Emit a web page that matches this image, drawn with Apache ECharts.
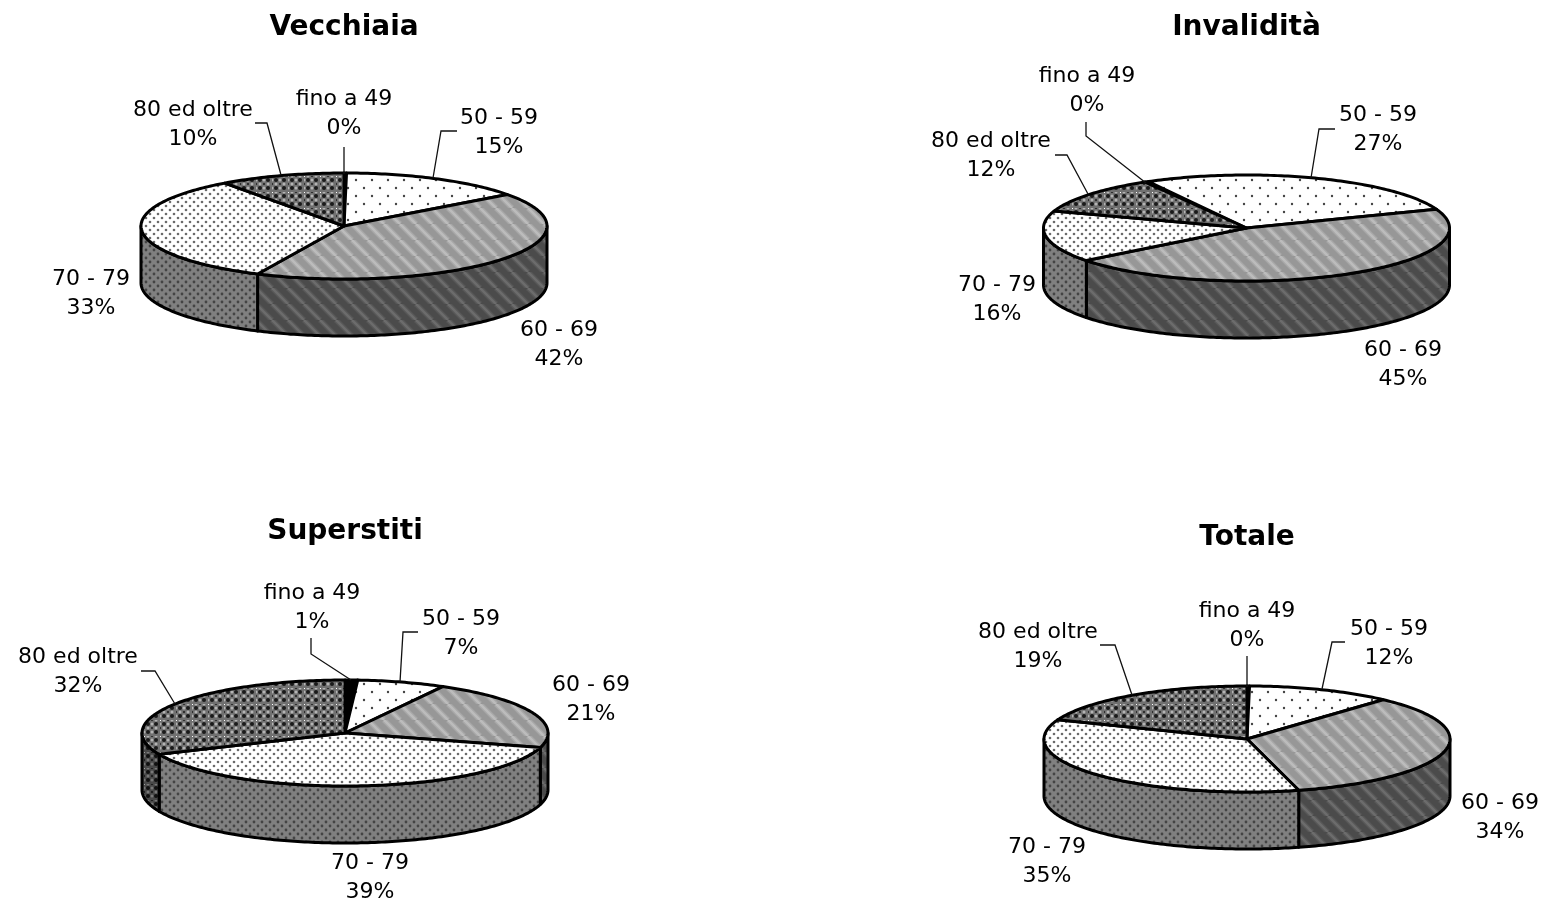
<!DOCTYPE html>
<html><head><meta charset="utf-8">
<style>html,body{margin:0;padding:0;background:#fff}#c{width:1546px;height:901px}</style>
<script src="https://cdn.jsdelivr.net/npm/echarts@6/dist/echarts.min.js"></script>
</head><body><div id="c"></div>
<script>
var categories = ['fino a 49', '50 - 59', '60 - 69', '70 - 79', '80 ed oltre'];
var vecchiaia = [0.2, 14.7, 42.1, 33.0, 10.0];
var invalidita = [0.3, 27.3, 45.2, 15.7, 11.5];
var superstiti = [1.0, 7.0, 21.4, 39.0, 31.6];
var totale = [0.2, 11.5, 34.2, 35.0, 19.1];
var percentLabels = {
  Vecchiaia: ['0%', '15%', '42%', '33%', '10%'],
  'Invalidità': ['0%', '27%', '45%', '16%', '12%'],
  Superstiti: ['1%', '7%', '21%', '39%', '32%'],
  Totale: ['0%', '12%', '34%', '35%', '19%']
};

var FONT = '"DejaVu Sans", Verdana, sans-serif';
function pat(w, h, draw) {
  var c = document.createElement('canvas'); c.width = w; c.height = h;
  draw(c.getContext('2d'), w, h);
  return { image: c, repeat: 'repeat' };
}
function dots(bg, fg, px, py, r) {
  return pat(px, py * 2, function (g, w, h) {
    g.fillStyle = bg; g.fillRect(0, 0, w, h);
    g.fillStyle = fg;
    [[px / 4, py / 2], [px * 3 / 4, py * 1.5]].forEach(function (p) {
      g.beginPath(); g.arc(p[0], p[1], r, 0, 7); g.fill();
    });
  });
}
function stripes(bg, mid, fg, per) {
  return pat(per, per, function (g, w, h) {
    g.fillStyle = bg; g.fillRect(0, 0, w, h);
    [[mid, per * 0.34], [fg, per * 0.16]].forEach(function (s) {
      g.strokeStyle = s[0]; g.lineWidth = s[1];
      for (var i = -1; i <= 1; i++) {
        g.beginPath(); g.moveTo(i * per, 0); g.lineTo(i * per + per, per); g.stroke();
      }
    });
  });
}
function weave(bg, dark, light, cross) {
  return pat(16, 16, function (g, w, h) {
    g.fillStyle = bg; g.fillRect(0, 0, w, h);
    for (var y = 0; y < 16; y += 8) for (var x = 0; x < 16; x += 8) {
      g.fillStyle = dark;
      g.beginPath(); g.arc(x + 4, y + 4, 2.0, 0, 7); g.fill();
      g.beginPath(); g.arc(x, y, 1.0, 0, 7); g.fill();
      g.fillStyle = light;
      g.beginPath(); g.arc(x + 4, y, 1.5, 0, 7); g.fill();
      g.beginPath(); g.arc(x, y + 4, 1.5, 0, 7); g.fill();
    }
    g.fillStyle = cross;
    g.fillRect(0, 0, 1, 1);
  });
}
var topFill = [
  '#000',
  dots('#fff', '#444', 16, 8, 1.2),
  stripes('#979797', '#a8a8a8', '#bcbcbc', 16),
  dots('#fff', '#6a6a6a', 8, 4, 1.3),
  weave('#707070', '#1a1a1a', '#b4b4b4', '#fff')
];
var sideFill = [
  '#000',
  dots('#808080', '#2a2a2a', 16, 8, 1.2),
  stripes('#4b4b4b', '#585858', '#6c6c6c', 16),
  dots('#808080', '#444', 8, 4, 1.4),
  weave('#484848', '#101010', '#787878', '#a0a0a0')
];

var pies = [
  { title: 'Vecchiaia', values: vecchiaia, cx: 344, cy: 226, rot: 0, titleY: 25,
    labels: [[344, 114], [499, 133], [559, 345], [91, 294], [193, 125]],
    leaders: [[[344, 147], [344, 174]], [[457, 131], [441, 131], [433, 178]], null, null, [[255, 123], [267, 123], [281, 175]]] },
  { title: 'Invalidità', values: invalidita, cx: 1246.5, cy: 228, rot: -30, titleY: 25,
    labels: [[1087, 91], [1378, 130], [1403, 365], [997, 300], [991, 156]],
    leaders: [[[1086, 122], [1086, 136], [1146, 183]], [[1335, 129], [1319, 129], [1311, 178]], null, null, [[1055, 155], [1067, 155], [1088, 194]]] },
  { title: 'Superstiti', values: superstiti, cx: 345, cy: 733, rot: 0, titleY: 529,
    labels: [[312, 608], [461, 634], [591, 700], [370, 878], [78, 672]],
    leaders: [[[311, 638], [311, 654], [351, 680]], [[418, 632], [403, 632], [400, 682]], null, null, [[141, 671], [155, 671], [175, 704]]] },
  { title: 'Totale', values: totale, cx: 1247, cy: 739, rot: 0, titleY: 535,
    labels: [[1247, 626], [1389, 644], [1500, 818], [1047, 862], [1038, 647]],
    leaders: [[[1247, 656], [1247, 687]], [[1345, 642], [1332, 642], [1322, 689]], null, null, [[1100, 645], [1115, 645], [1132, 695]]] }
];
var RX = 203, RY = 53, DEPTH = 57, LW = 3;

function pt(p, deg, dy) {
  var a = deg * Math.PI / 180;
  return [p.cx + RX * Math.sin(a), p.cy - RY * Math.cos(a) + (dy || 0)];
}
function arc(p, a0, a1, dy) {
  var out = [], n = Math.max(2, Math.ceil(Math.abs(a1 - a0)));
  for (var i = 0; i <= n; i++) out.push(pt(p, a0 + (a1 - a0) * i / n, dy));
  return out;
}
function angles(p) {
  var sum = p.values.reduce(function (s, v) { return s + v; }, 0), acc = p.rot, res = [];
  p.values.forEach(function (v) { var n = acc + v / sum * 360; res.push([acc, n]); acc = n; });
  return res;
}
function wall(p, a0, a1, fill) {
  var lo = a0, hi = a1;
  while (lo < -90) { lo += 360; hi += 360; }
  var parts = [];
  [[90, 270], [450, 630]].forEach(function (r) {
    var s = Math.max(lo, r[0]), e = Math.min(hi, r[1]);
    if (e > s) parts.push([s, e]);
  });
  return parts.map(function (q) {
    var pts = arc(p, q[0], q[1], 0).concat(arc(p, q[1], q[0], DEPTH));
    return { type: 'polygon', shape: { points: pts }, style: { fill: fill, stroke: '#000', lineWidth: LW, lineJoin: 'round' } };
  });
}

function pieSeries(p) {
  var ang = angles(p);
  var data = p.values.map(function (v, i) { return { value: v, name: categories[i] }; });
  return {
    type: 'custom', coordinateSystem: 'none', name: p.title, data: data, clip: false, animation: false, silent: true,
    renderItem: function (params) {
      var i = params.dataIndex;
      var a = ang[i];
      var top = [[p.cx, p.cy]].concat(arc(p, a[0], a[1], 0));
      var children = wall(p, a[0], a[1], sideFill[i]);
      children.push({ type: 'polygon', z2: 5, shape: { points: top },
        style: { fill: topFill[i], stroke: '#000', lineWidth: LW, lineJoin: 'round' } });
      return { type: 'group', children: children };
    }
  };
}

var overlay = [];
pies.forEach(function (p) {
  overlay.push({ type: 'text', z: 10,
    style: { text: p.title, fill: '#000', font: 'bold 28px ' + FONT, align: 'center', verticalAlign: 'middle', x: p.cx, y: p.titleY + 3 } });
  categories.forEach(function (c, i) {
    var l = p.labels[i];
    overlay.push({ type: 'text', z: 10,
      style: { text: c + '\n' + percentLabels[p.title][i], fill: '#000', font: '22px ' + FONT, lineHeight: 29, align: 'center', verticalAlign: 'middle', x: l[0], y: l[1] } });
    var ld = p.leaders[i];
    if (ld) overlay.push({ type: 'polyline', z: 10, shape: { points: ld }, style: { fill: 'none', stroke: '#111', lineWidth: 1.3 } });
  });
});

var chart = echarts.init(document.getElementById('c'), null, { renderer: 'canvas', width: 1546, height: 901 });
chart.setOption({
  backgroundColor: '#fff',
  animation: false,
  graphic: { elements: overlay },
  series: pies.map(pieSeries)
});
</script></body></html>
